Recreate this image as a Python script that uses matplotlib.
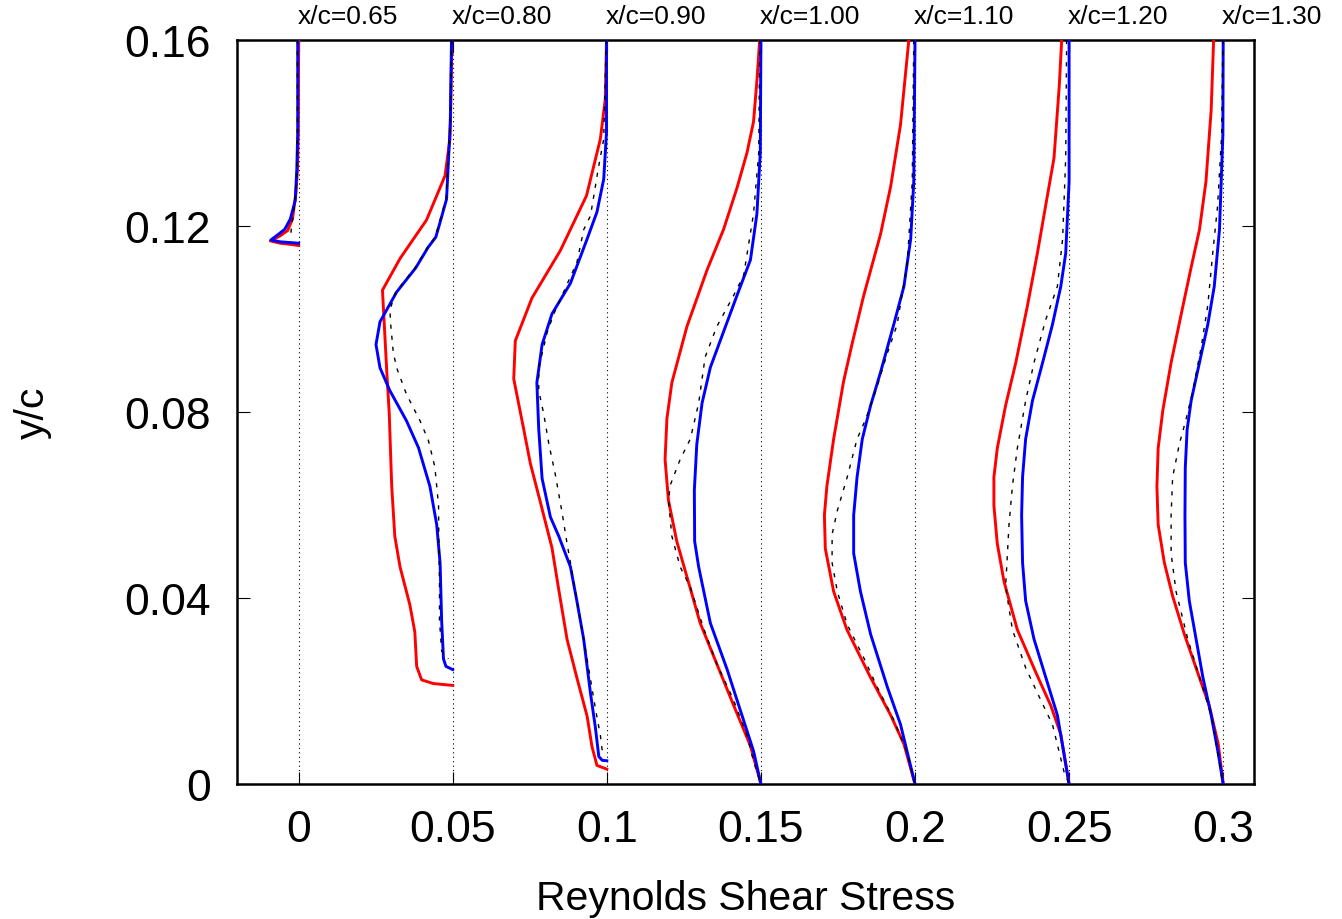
import matplotlib
matplotlib.use("Agg")
import matplotlib.pyplot as plt

plt.rcParams['font.family'] = ['Liberation Sans', 'DejaVu Sans']

# station labels and x offsets (each profile is shifted by its offset)
stations = ['x/c=0.65', 'x/c=0.80', 'x/c=0.90', 'x/c=1.00', 'x/c=1.10', 'x/c=1.20', 'x/c=1.30']
offsets = [0.0, 0.05, 0.10, 0.15, 0.20, 0.25, 0.30]

# x/c = 0.65
y_red_065 = [0.16, 0.14, 0.132, 0.127, 0.1215, 0.119, 0.1178, 0.1168, 0.1163, 0.1160, 0.1158]
t_red_065 = [0.0, -0.0001, -0.0004, -0.0009, -0.0020, -0.0036, -0.0062, -0.0092, -0.0060, -0.0020, 0.0]
y_blue_065 = [0.16, 0.14, 0.132, 0.1255, 0.1215, 0.1193, 0.1180, 0.1170, 0.1166, 0.1164, 0.1163]
t_blue_065 = [-0.0003, -0.0003, -0.0006, -0.0011, -0.0027, -0.0045, -0.0070, -0.0090, -0.0060, -0.0020, 0.0]
y_ref_065 = [0.16, 0.14, 0.13, 0.124, 0.1195, 0.1172]
t_ref_065 = [-0.0004, -0.0004, -0.0007, -0.0014, -0.0024, -0.0026]

# x/c = 0.80
y_red_080 = [0.16, 0.147, 0.1387, 0.1308, 0.1213, 0.1130, 0.1062, 0.0887, 0.0797, 0.0641, 0.0533,
             0.0467, 0.0385, 0.0327, 0.0253, 0.0224, 0.0216, 0.0212]
t_red_080 = [-0.0003, -0.0006, -0.0009, -0.0025, -0.0085, -0.0171, -0.0228, -0.0214, -0.0206, -0.0198, -0.0188,
             -0.0171, -0.0139, -0.0123, -0.0117, -0.0101, -0.0063, 0.0]
y_blue_080 = [0.16, 0.142, 0.1258, 0.1208, 0.1176, 0.1154, 0.1110, 0.1058, 0.0994, 0.0945, 0.0895,
              0.0846, 0.0781, 0.0723, 0.0640, 0.0558, 0.0475, 0.0352, 0.0269, 0.0253, 0.0246]
t_blue_080 = [-0.0004, -0.0008, -0.0020, -0.0041, -0.0055, -0.0080, -0.0120, -0.0182, -0.0236, -0.0249, -0.0236,
              -0.0204, -0.0150, -0.0111, -0.0074, -0.0052, -0.0041, -0.0036, -0.0030, -0.0022, 0.0]
y_ref_080 = [0.16, 0.142, 0.1258, 0.1208, 0.1176, 0.1154, 0.1110, 0.1058, 0.1019, 0.0986, 0.0929,
             0.0895, 0.0838, 0.0781, 0.0739, 0.0682, 0.0599, 0.0517, 0.0434, 0.0352, 0.0286, 0.0269]
t_ref_080 = [-0.0004, -0.0008, -0.0022, -0.0043, -0.0057, -0.0082, -0.0122, -0.0185, -0.0204, -0.0201, -0.0193,
             -0.0182, -0.0150, -0.0106, -0.0079, -0.0058, -0.0046, -0.0045, -0.0043, -0.0043, -0.0036, -0.0014]

# x/c = 0.90
y_red_090 = [0.16, 0.1473, 0.1387, 0.1265, 0.1147, 0.1045, 0.0953, 0.0871, 0.0764, 0.0689, 0.0607,
             0.0508, 0.0418, 0.0311, 0.0228, 0.0146, 0.0080, 0.0040, 0.0032]
t_red_090 = [-0.0001, -0.0005, -0.0021, -0.0066, -0.0151, -0.0243, -0.0297, -0.0302, -0.0270, -0.0248, -0.0216,
             -0.0178, -0.0156, -0.0129, -0.0097, -0.0064, -0.0048, -0.0032, 0.0]
y_blue_090 = [0.16, 0.1402, 0.1301, 0.1230, 0.1172, 0.1077, 0.1011, 0.0945, 0.0863, 0.0764, 0.0657,
              0.0574, 0.0533, 0.0467, 0.0393, 0.0311, 0.0195, 0.0121, 0.0059, 0.0051, 0.0050]
t_blue_090 = [-0.0001, -0.0001, -0.0010, -0.0032, -0.0064, -0.0118, -0.0178, -0.0210, -0.0227, -0.0221, -0.0210,
              -0.0183, -0.0156, -0.0118, -0.0097, -0.0075, -0.0053, -0.0037, -0.0026, -0.0015, 0.0]
y_ref_090 = [0.16, 0.1387, 0.1330, 0.1222, 0.1192, 0.1122, 0.1011, 0.0970, 0.0895, 0.0846, 0.0797,
             0.0731, 0.0665, 0.0583, 0.0517, 0.0434, 0.0352, 0.0269, 0.0162, 0.0105, 0.0072]
t_ref_090 = [-0.0002, -0.0010, -0.0026, -0.0053, -0.0075, -0.0097, -0.0172, -0.0194, -0.0221, -0.0221, -0.0205,
             -0.0188, -0.0167, -0.0145, -0.0129, -0.0107, -0.0086, -0.0064, -0.0037, -0.0021, -0.0015]

# x/c = 1.00
y_red_100 = [0.16, 0.1512, 0.1424, 0.1358, 0.1281, 0.1193, 0.1105, 0.0984, 0.0863, 0.0786, 0.0698,
             0.0610, 0.0522, 0.0434, 0.0346, 0.0258, 0.0170, 0.0082, 0.0]
t_red_100 = [-0.0004, -0.0013, -0.0024, -0.0045, -0.0078, -0.0121, -0.0175, -0.0240, -0.0289, -0.0305, -0.0311,
             -0.0300, -0.0273, -0.0235, -0.0197, -0.0143, -0.0089, -0.0034, 0.0]
y_blue_100 = [0.16, 0.1358, 0.1226, 0.1127, 0.1050, 0.0973, 0.0896, 0.0819, 0.0731, 0.0632, 0.0522,
              0.0467, 0.0346, 0.0247, 0.0159, 0.0071, 0.0]
t_blue_100 = [0.0, -0.0002, -0.0013, -0.0034, -0.0078, -0.0121, -0.0164, -0.0191, -0.0208, -0.0216, -0.0215,
              -0.0202, -0.0164, -0.0110, -0.0067, -0.0024, 0.0]
y_ref_100 = [0.16, 0.1358, 0.1226, 0.1094, 0.1050, 0.0984, 0.0918, 0.0819, 0.0742, 0.0698, 0.0643,
             0.0610, 0.0533, 0.0467, 0.0423, 0.0335, 0.0258, 0.0181, 0.0104, 0.0049, 0.0]
t_ref_100 = [-0.0004, -0.0007, -0.0024, -0.0056, -0.0089, -0.0143, -0.0181, -0.0202, -0.0229, -0.0262, -0.0294,
             -0.0300, -0.0289, -0.0262, -0.0229, -0.0186, -0.0143, -0.0089, -0.0045, -0.0024, 0.0]

# x/c = 1.10
y_red_110 = [0.16, 0.1418, 0.1285, 0.1182, 0.1049, 0.0947, 0.0865, 0.0742, 0.0640, 0.0578, 0.0506,
             0.0414, 0.0332, 0.0230, 0.0148, 0.0086, 0.0]
t_red_110 = [-0.0020, -0.0047, -0.0079, -0.0112, -0.0167, -0.0204, -0.0232, -0.0264, -0.0286, -0.0294, -0.0291,
             -0.0264, -0.0221, -0.0145, -0.0079, -0.0036, 0.0]
y_blue_110 = [0.16, 0.1295, 0.1172, 0.1070, 0.0988, 0.0885, 0.0814, 0.0742, 0.0660, 0.0578, 0.0496,
              0.0414, 0.0322, 0.0209, 0.0128, 0.0]
t_blue_110 = [0.0, -0.0004, -0.0014, -0.0036, -0.0069, -0.0112, -0.0144, -0.0171, -0.0188, -0.0199, -0.0199,
              -0.0177, -0.0144, -0.0090, -0.0047, 0.0]
y_ref_110 = [0.16, 0.1295, 0.1121, 0.0988, 0.0926, 0.0844, 0.0783, 0.0742, 0.0660, 0.0588, 0.0537,
             0.0476, 0.0414, 0.0343, 0.0271, 0.0209, 0.0138, 0.0066, 0.0]
t_ref_110 = [-0.0004, -0.0009, -0.0025, -0.0058, -0.0090, -0.0128, -0.0161, -0.0188, -0.0220, -0.0252, -0.0269,
             -0.0269, -0.0252, -0.0220, -0.0166, -0.0123, -0.0069, -0.0025, 0.0]

# x/c = 1.20
y_red_120 = [0.16, 0.1500, 0.1346, 0.1244, 0.1141, 0.1029, 0.0906, 0.0814, 0.0722, 0.0660, 0.0599,
             0.0517, 0.0435, 0.0332, 0.0240, 0.0168, 0.0107, 0.0]
t_red_120 = [-0.0024, -0.0032, -0.0049, -0.0076, -0.0103, -0.0135, -0.0173, -0.0206, -0.0233, -0.0244, -0.0244,
             -0.0233, -0.0211, -0.0168, -0.0108, -0.0059, -0.0027, 0.0]
y_blue_120 = [0.16, 0.1295, 0.1141, 0.1070, 0.0988, 0.0906, 0.0824, 0.0742, 0.0660, 0.0578, 0.0476,
              0.0394, 0.0312, 0.0230, 0.0148, 0.0]
t_blue_120 = [0.0, 0.0, -0.0011, -0.0027, -0.0054, -0.0086, -0.0119, -0.0141, -0.0151, -0.0154, -0.0151,
              -0.0141, -0.0114, -0.0076, -0.0038, 0.0]
y_ref_120 = [0.16, 0.1346, 0.1172, 0.1070, 0.0998, 0.0906, 0.0824, 0.0722, 0.0640, 0.0558, 0.0496,
             0.0425, 0.0332, 0.0250, 0.0189, 0.0128, 0.0025, 0.0]
t_ref_120 = [-0.0008, -0.0011, -0.0021, -0.0038, -0.0076, -0.0114, -0.0141, -0.0168, -0.0184, -0.0195, -0.0200,
             -0.0206, -0.0184, -0.0141, -0.0098, -0.0054, -0.0016, 0.0]

# x/c = 1.30
y_red_130 = [0.16, 0.1449, 0.1295, 0.1192, 0.1111, 0.1008, 0.0906, 0.0803, 0.0722, 0.0640, 0.0558,
             0.0476, 0.0404, 0.0322, 0.0240, 0.0168, 0.0086, 0.0]
t_red_130 = [-0.0031, -0.0039, -0.0056, -0.0077, -0.0104, -0.0137, -0.0169, -0.0196, -0.0211, -0.0215, -0.0211,
             -0.0191, -0.0164, -0.0126, -0.0083, -0.0045, -0.0016, 0.0]
y_blue_130 = [0.16, 0.1397, 0.1192, 0.1070, 0.0988, 0.0906, 0.0824, 0.0762, 0.0680, 0.0578, 0.0476,
              0.0394, 0.0312, 0.0230, 0.0148, 0.0066, 0.0]
t_blue_130 = [0.0, -0.0001, -0.0012, -0.0029, -0.0050, -0.0077, -0.0104, -0.0117, -0.0123, -0.0124, -0.0123,
              -0.0110, -0.0088, -0.0066, -0.0039, -0.0016, 0.0]
y_ref_130 = [0.16, 0.1397, 0.1244, 0.1141, 0.1029, 0.0937, 0.0844, 0.0783, 0.0732, 0.0660, 0.0578,
             0.0496, 0.0414, 0.0312, 0.0220, 0.0148, 0.0066, 0.0]
t_ref_130 = [-0.0001, -0.0005, -0.0018, -0.0034, -0.0050, -0.0072, -0.0099, -0.0121, -0.0142, -0.0164, -0.0169,
             -0.0169, -0.0153, -0.0115, -0.0072, -0.0039, -0.0018, 0.0]

red_y = [y_red_065, y_red_080, y_red_090, y_red_100, y_red_110, y_red_120, y_red_130]
red_t = [t_red_065, t_red_080, t_red_090, t_red_100, t_red_110, t_red_120, t_red_130]
blue_y = [y_blue_065, y_blue_080, y_blue_090, y_blue_100, y_blue_110, y_blue_120, y_blue_130]
blue_t = [t_blue_065, t_blue_080, t_blue_090, t_blue_100, t_blue_110, t_blue_120, t_blue_130]
ref_y = [y_ref_065, y_ref_080, y_ref_090, y_ref_100, y_ref_110, y_ref_120, y_ref_130]
ref_t = [t_ref_065, t_ref_080, t_ref_090, t_ref_100, t_ref_110, t_ref_120, t_ref_130]

xticks = [0, 0.05, 0.1, 0.15, 0.2, 0.25, 0.3]
xticklabels = ['0', '0.05', '0.1', '0.15', '0.2', '0.25', '0.3']
yticks = [0, 0.04, 0.08, 0.12, 0.16]
yticklabels = ['0', '0.04', '0.08', '0.12', '0.16']

fig = plt.figure(figsize=(13.42, 9.2), dpi=100)
ax = fig.add_axes([237 / 1342, 135 / 920, 1017 / 1342, 744 / 920])

for i, off in enumerate(offsets):
    ax.plot([off + t for t in red_t[i]], red_y[i], color='#ff0000', lw=2.1, zorder=3)
    ax.plot([off + t for t in blue_t[i]], blue_y[i], color='#0000ff', lw=2.1, zorder=4)
    ax.plot([off + t for t in ref_t[i]], ref_y[i], color='black', lw=1.0,
            linestyle=(0, (3, 5)), zorder=5)
    # station label, left-aligned on the profile's zero line, above the frame
    ax.annotate(stations[i], xy=(off, 1.0), xycoords=('data', 'axes fraction'),
                xytext=(-1, 9), textcoords='offset points', ha='left', va='bottom',
                fontsize=19, annotation_clip=False)

ax.set_xlim(-0.02, 0.31)
ax.set_ylim(0, 0.16)
ax.set_xticks(xticks)
ax.set_xticklabels(xticklabels)
ax.set_yticks(yticks)
ax.set_yticklabels(yticklabels)

ax.grid(axis='x', color='black', linestyle=(0, (1, 3)), lw=0.8, zorder=1)
ax.tick_params(direction='in', length=9, width=0.8, top=True, right=True,
               labelsize=32)
ax.tick_params(axis='x', pad=18)
ax.tick_params(axis='y', pad=19)
for s in ax.spines.values():
    s.set_linewidth(1.8)

ax.set_xlabel('Reynolds Shear Stress', fontsize=29.5, labelpad=21)
ax.set_ylabel('y/c', fontsize=29.5, labelpad=52)

fig.savefig('out.png', dpi=100)
